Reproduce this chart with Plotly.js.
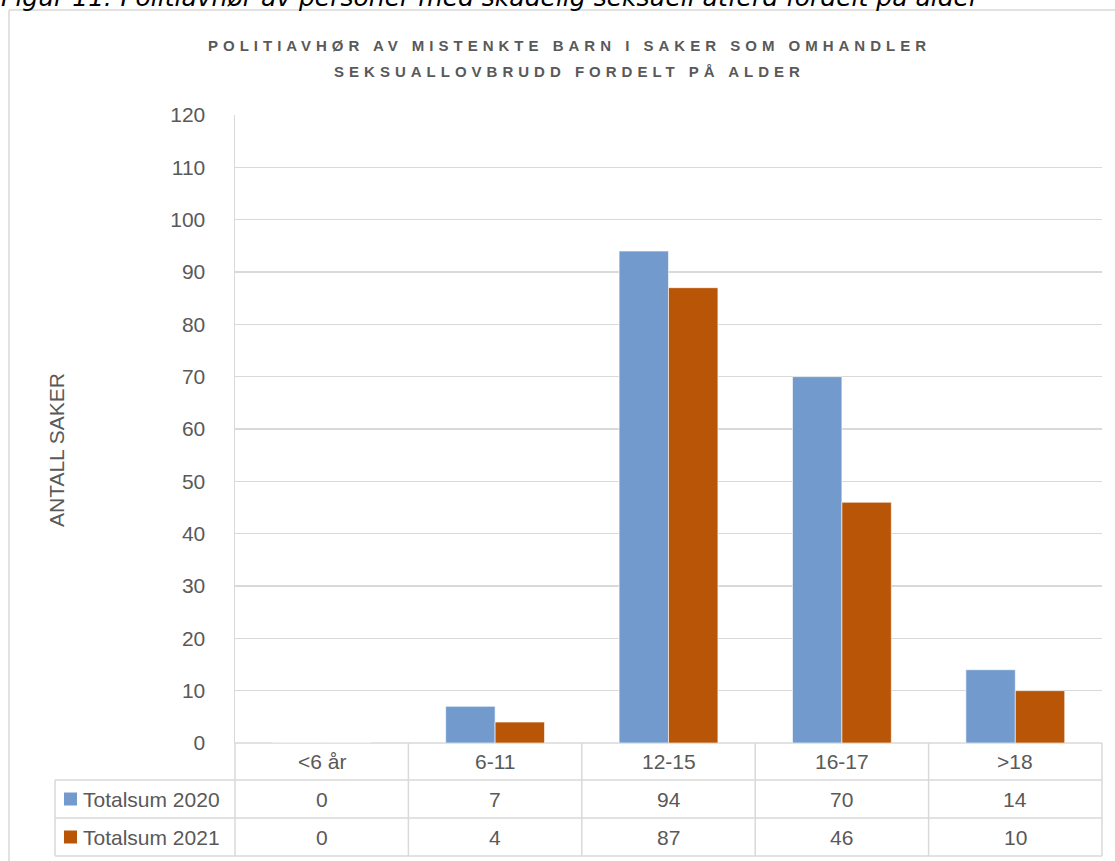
<!DOCTYPE html>
<html>
<head>
<meta charset="utf-8">
<script src="https://cdn.plot.ly/plotly-3.0.1.min.js"></script>
<style>html,body{margin:0;padding:0;background:#fff;}#chart{width:1115px;height:861px;}</style>
</head>
<body>
<div id="chart"></div>
<script>
// ---- data ----
const categories = ["<6 år", "6-11", "12-15", "16-17", ">18"];
const seriesNames = ["Totalsum 2020", "Totalsum 2021"];
const values2020 = [0, 7, 94, 70, 14];
const values2021 = [0, 4, 87, 46, 10];
const yTicks = [0, 10, 20, 30, 40, 50, 60, 70, 80, 90, 100, 110, 120];
const chartTitle = "POLITIAVHØR AV MISTENKTE BARN I SAKER SOM OMHANDLER<br>SEKSUALLOVBRUDD FORDELT PÅ ALDER";
const caption = "Figur 11: Politiavhør av personer med skadelig seksuell atferd fordelt på alder";
const yTitle = "ANTALL SAKER";

// ---- styles / geometry ----
const W = 1115, H = 861;
const L = 235, R = 1102, T = 115, B = 743;
const colors = ["#729ACC", "#B85507"];
const textCol = "#595959";
const gridCol = "#D9D9D9";
const FONT = "Liberation Sans, Arial, sans-serif";
const TS = 21;
const px = x => (x - L) / (R - L);
const py = y => (B - y) / (B - T);
const rowLines = [743, 780, 818, 856];
const tableLeft = 55;

const seriesVals = [values2020, values2021];
const traces = seriesVals.map((v, i) => ({
  type: "bar", x: categories, y: v, name: seriesNames[i],
  marker: {color: colors[i], line: {color: "rgba(255,255,255,0.6)", width: 1}},
  hoverinfo: "x+y+name", showlegend: false
}));

const shapes = [];
const line = (x0, y0, x1, y1) => shapes.push({type: "line", xref: "paper", yref: "paper",
  x0: px(x0), y0: py(y0), x1: px(x1), y1: py(y1), line: {color: gridCol, width: 1.5}, layer: "below"});
// outer frame (left + top)
line(9, 10, 1116, 10);
line(9, 10, 9, 862);
// table horizontal lines
line(L, rowLines[0], R, rowLines[0]);
for (let k = 1; k < rowLines.length; k++) line(tableLeft, rowLines[k], R, rowLines[k]);
// table vertical lines
line(tableLeft, rowLines[1], tableLeft, rowLines[3]);
for (let c = 0; c <= categories.length; c++) {
  const x = L + c * (R - L) / categories.length;
  line(x, rowLines[0], x, rowLines[3]);
}
// legend keys
seriesNames.forEach((n, i) => {
  const yc = (rowLines[i + 1] + rowLines[i + 2]) / 2;
  shapes.push({type: "rect", xref: "paper", yref: "paper",
    x0: px(64), x1: px(77), y0: py(yc + 6.5), y1: py(yc - 6.5),
    fillcolor: colors[i], line: {width: 0}});
});

const annotations = [];
// caption (clipped at top, as in the source)
annotations.push({text: caption, xref: "paper", yref: "paper", x: px(-1), y: py(14),
  xanchor: "left", yanchor: "bottom", showarrow: false,
  font: {family: "DejaVu Sans, Verdana, sans-serif", size: 25, style: "italic", color: "#000"}});
// category header
categories.forEach(c => annotations.push({text: c, xref: "x", yref: "paper", x: c,
  y: py((rowLines[0] + rowLines[1]) / 2), yanchor: "middle", showarrow: false,
  font: {family: FONT, size: TS, color: textCol}}));
// rows
seriesVals.forEach((v, i) => {
  const yc = py((rowLines[i + 1] + rowLines[i + 2]) / 2);
  annotations.push({text: seriesNames[i], xref: "paper", yref: "paper", x: px(81), y: yc,
    xanchor: "left", yanchor: "middle", showarrow: false, font: {family: FONT, size: TS, color: textCol}});
  v.forEach((val, j) => annotations.push({text: String(val), xref: "x", yref: "paper", x: categories[j],
    y: yc, yanchor: "middle", showarrow: false, font: {family: FONT, size: TS, color: textCol}}));
});

const layout = {
  width: W, height: H,
  margin: {l: L, r: W - R, t: T, b: H - B, pad: 0},
  paper_bgcolor: "#fff", plot_bgcolor: "#fff",
  title: {text: chartTitle, x: 0.5 + 12 / W, xanchor: "center", y: 1 - 51 / H, yanchor: "middle",
    font: {family: FONT, size: 15, weight: "bold", color: textCol}},
  barmode: "group", bargap: 0.43, bargroupgap: 0,
  xaxis: {type: "category", showticklabels: false, showgrid: false, zeroline: false,
    showline: false, ticks: "", fixedrange: true},
  yaxis: {range: [0, 120], tickvals: yTicks, ticktext: yTicks.map(String), showgrid: true,
    gridcolor: gridCol, gridwidth: 1.5, zeroline: false, showline: true, linecolor: gridCol, linewidth: 1.5,
    ticks: "", ticklabelstandoff: 24, tickfont: {family: FONT, size: TS, color: textCol},
    title: {text: yTitle, standoff: 100, font: {family: FONT, size: 21, color: textCol}}},
  shapes: shapes, annotations: annotations
};

Plotly.newPlot("chart", traces, layout, {displayModeBar: false, staticPlot: true}).then(gd => {
  const t = gd.querySelector(".gtitle");
  if (t) {
    t.setAttribute("letter-spacing", "5px");
    const lines = t.querySelectorAll("tspan.line");
    if (lines.length > 1) lines[1].setAttribute("dy", "1.73em");
  }
  const yt = gd.querySelector(".ytitle");
  if (yt) {
    const x = +yt.getAttribute("x"), y = +yt.getAttribute("y") + 21;
    yt.setAttribute("y", y);
    yt.setAttribute("transform", "rotate(-90," + x + "," + y + ")");
  }
});
</script>
</body>
</html>
